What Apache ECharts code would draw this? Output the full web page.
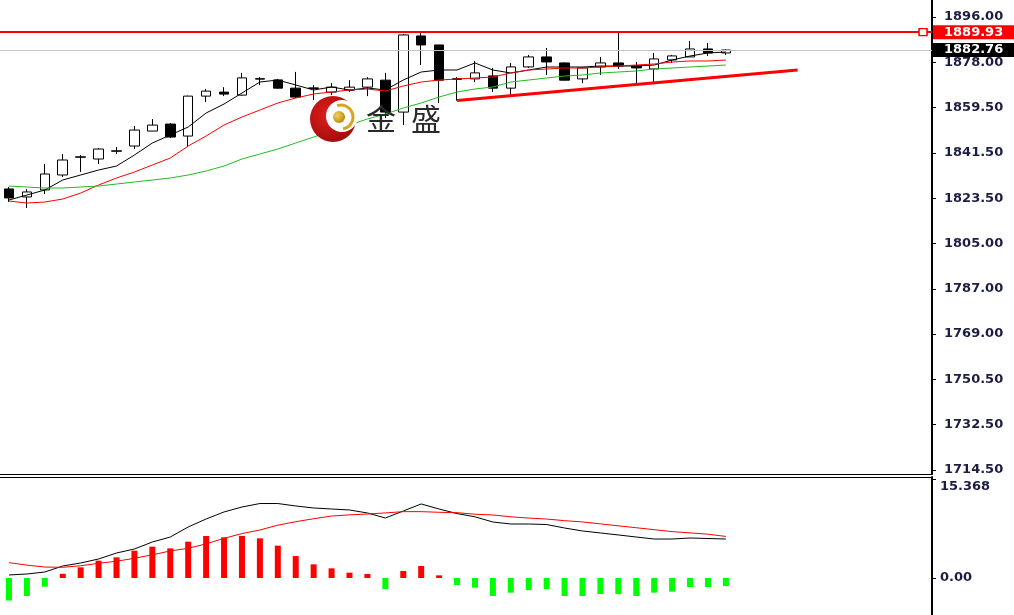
<!DOCTYPE html>
<html>
<head>
<meta charset="utf-8">
<script src="https://cdn.jsdelivr.net/npm/echarts@6/dist/echarts.min.js"></script>
<style>
html,body{margin:0;padding:0;background:#ffffff;}
#c{width:1014px;height:615px;}
</style>
</head>
<body>
<div id="c"></div>
<script>
// ---------- DATA ----------
const categories = ['0','1','2','3','4','5','6','7','8','9','10','11','12','13','14','15','16','17','18','19','20','21','22','23','24','25','26','27','28','29','30','31','32','33','34','35','36','37','38','39','40','41','42','43','44','45','46','47','48','49','50','51'];

// [open, close, low, high]
const ohlc = [
  [1827.1,1823.5,1821.9,1827.9],[1823.9,1825.9,1819.5,1827.1],[1826.7,1833.1,1825.1,1837.1],
  [1832.7,1838.7,1831.9,1841.1],[1839.8,1840.0,1833.9,1840.7],[1839.1,1843.1,1837.1,1843.5],
  [1842.2,1842.4,1841.1,1843.9],[1844.3,1850.7,1843.1,1852.3],[1850.3,1852.7,1850.3,1855.1],
  [1853.1,1847.9,1847.5,1853.5],[1848.3,1864.3,1843.9,1864.5],[1864.3,1866.3,1861.9,1867.2],
  [1865.9,1865.1,1864.3,1867.9],[1864.7,1871.6,1864.5,1873.6],[1871.1,1871.3,1868.7,1871.9],
  [1870.8,1867.5,1867.2,1871.2],[1867.5,1863.9,1863.5,1874.0],[1867.6,1867.4,1862.7,1868.7],
  [1865.9,1867.9,1864.7,1869.5],[1866.7,1867.9,1865.9,1870.7],[1867.9,1871.2,1864.3,1871.9],
  [1870.7,1857.9,1855.5,1873.6],[1857.9,1888.8,1852.7,1889.2],[1888.4,1884.8,1876.8,1889.6],
  [1884.8,1870.7,1861.5,1884.8],[1871.0,1871.3,1862.5,1871.9],[1871.2,1873.6,1869.9,1878.4],
  [1872.4,1867.5,1865.9,1875.6],[1867.5,1876.0,1864.7,1877.6],[1876.0,1880.0,1875.6,1880.8],
  [1880.0,1878.0,1872.8,1883.6],[1877.6,1870.7,1870.5,1877.8],[1871.2,1875.6,1869.5,1876.0],
  [1876.0,1877.6,1872.8,1880.0],[1877.6,1876.4,1875.2,1889.9],[1876.4,1875.6,1869.5,1878.0],
  [1875.2,1879.2,1869.9,1881.6],[1878.8,1880.4,1877.6,1880.8],[1880.0,1883.2,1880.0,1886.4],
  [1883.2,1881.6,1880.4,1885.6],[1881.6,1882.76,1880.8,1883.0]
];

const maFast = [1822.67,1824.67,1826.68,1830.68,1832.69,1834.69,1836.29,1840.70,1845.51,1848.72,1851.92,1857.53,1861.14,1865.54,1869.95,1870.75,1868.75,1866.75,1867.95,1866.75,1867.55,1866.75,1870.75,1873.96,1874.76,1874.76,1877.57,1874.76,1873.56,1874.76,1875.96,1875.96,1875.96,1876.36,1876.36,1876.36,1876.76,1878.77,1880.37,1881.57,1881.97];
const maMid = [1822.27,1821.47,1821.87,1823.07,1825.47,1828.68,1831.49,1833.89,1836.69,1839.50,1844.31,1848.31,1852.72,1855.93,1858.73,1861.54,1863.54,1865.14,1865.95,1866.75,1867.15,1866.35,1868.35,1869.95,1870.75,1871.15,1871.56,1871.96,1873.56,1874.76,1875.16,1875.56,1875.56,1875.96,1876.36,1876.76,1877.17,1877.97,1878.37,1878.37,1878.77];
const maSlow = [1828.28,1827.88,1827.48,1827.48,1827.88,1828.28,1829.08,1829.88,1830.68,1831.49,1832.69,1834.29,1836.29,1839.10,1841.10,1843.11,1845.51,1847.91,1850.32,1852.72,1855.13,1857.13,1859.53,1861.54,1863.94,1865.95,1867.15,1867.95,1869.95,1870.75,1871.56,1872.36,1872.76,1873.56,1873.96,1874.36,1875.16,1875.56,1875.96,1876.36,1876.76];

const trendline = [[25,1862.54],[44,1874.76]];
const resistance = 1889.93;
const currentPrice = 1882.76;

const macdHist = [-3.5,-2.8,-1.35,0.65,1.66,2.69,3.21,4.24,4.86,4.6,5.64,6.52,6.31,6.52,6.16,5.02,3.41,2.12,1.5,0.83,0.62,-1.71,1.09,1.86,0.41,-1.09,-1.5,-2.8,-2.28,-1.86,-1.71,-2.8,-2.8,-2.48,-2.5,-2.8,-2.28,-2.12,-1.4,-1.4,-1.24];
const macdDif = [0.47,0.62,0.93,1.86,2.33,2.95,3.88,4.5,5.59,6.36,7.92,9.16,10.25,11.02,11.56,11.56,11.18,10.87,10.71,10.56,10.09,9.31,10.4,11.49,10.71,10.0,9.5,8.69,8.38,8.38,8.3,7.76,7.3,6.99,6.68,6.36,6.05,6.05,6.21,6.13,6.05];
const macdDea = [2.38,2.0,1.7,1.66,1.9,2.28,2.6,3.06,3.6,4.2,4.61,5.3,6.16,6.9,7.45,8.2,8.74,9.2,9.62,9.8,9.93,10.1,10.3,10.3,10.2,10.14,9.9,9.78,9.5,9.3,9.15,8.9,8.7,8.4,8.1,7.8,7.5,7.2,7.0,6.8,6.45];

const priceTickValues = [1714.5,1732.65,1750.8,1768.95,1787.1,1805.25,1823.4,1841.55,1859.7,1877.85,1896];
const priceTickLabels = ['1714.50','1732.50','1750.50','1769.00','1787.00','1805.00','1823.50','1841.50','1859.50','1878.00','1896.00'];
const macdTickValues = [0, 15.368];
const macdTickLabels = ['0.00', '15.368'];

// ---------- CHART ----------
function nearestLabel(v, vals, labels) {
  let best = 0, bd = Infinity;
  for (let i = 0; i < vals.length; i++) {
    const d = Math.abs(vals[i] - v);
    if (d < bd) { bd = d; best = i; }
  }
  return labels[best];
}

const labelFont = { fontFamily: 'DejaVu Sans', fontSize: 13, fontWeight: 'bold', color: '#1c1c44' };

const chart = echarts.init(document.getElementById('c'), null, { renderer: 'canvas' });

const option = {
  animation: false,
  backgroundColor: '#ffffff',
  grid: [
    { left: -4, right: 82, top: 0, height: 474 },
    { left: -4, right: 82, top: 477, bottom: 0 }
  ],
  xAxis: [
    { type: 'category', data: categories, gridIndex: 0, boundaryGap: true,
      axisLine: { show: true, onZero: false, lineStyle: { color: '#000', width: 1 } },
      axisTick: { show: false }, axisLabel: { show: false }, splitLine: { show: false } },
    { type: 'category', data: categories, gridIndex: 1, boundaryGap: true, position: 'top',
      axisLine: { show: true, onZero: false, lineStyle: { color: '#000', width: 1 } },
      axisTick: { show: false }, axisLabel: { show: false }, splitLine: { show: false } }
  ],
  yAxis: [
    { type: 'value', gridIndex: 0, position: 'right', min: 1712.9, max: 1902.81,
      axisLine: { show: true, lineStyle: { color: '#000', width: 2 } },
      axisTick: { show: true, customValues: priceTickValues, length: 4, lineStyle: { color: '#000', width: 1 } },
      axisLabel: Object.assign({ customValues: priceTickValues, margin: 12,
        formatter: v => nearestLabel(v, priceTickValues, priceTickLabels) }, labelFont),
      splitLine: { show: false } },
    { type: 'value', gridIndex: 1, position: 'right', min: -5.744, max: 15.678,
      axisLine: { show: true, lineStyle: { color: '#000', width: 2 } },
      axisTick: { show: true, customValues: macdTickValues, length: 4, lineStyle: { color: '#000', width: 1 } },
      axisLabel: Object.assign({ customValues: macdTickValues, margin: 8,
        formatter: v => v > 1 ? '{top|' + nearestLabel(v, macdTickValues, macdTickLabels) + '}' : nearestLabel(v, macdTickValues, macdTickLabels),
        rich: { top: { padding: [16, 0, 0, 0], fontFamily: 'DejaVu Sans', fontSize: 13, fontWeight: 'bold', color: '#1c1c44' } }
      }, labelFont),
      splitLine: { show: false } }
  ],
  series: [
    { type: 'candlestick', name: 'price', xAxisIndex: 0, yAxisIndex: 0, data: ohlc,
      barWidth: 10, z: 2,
      itemStyle: { color: '#ffffff', color0: '#000000', borderColor: '#000000', borderColor0: '#000000', borderWidth: 1 },
      markLine: {
        silent: true, symbol: ['none', 'none'], animation: false,
        data: [
          { yAxis: resistance, lineStyle: { color: '#ff0000', width: 2, type: 'solid' },
            label: { show: true, position: 'end', distance: 1, formatter: () => resistance.toFixed(2),
              backgroundColor: '#ff0000', color: '#ffffff', padding: [1, 20, 0, 11],
              fontFamily: 'DejaVu Sans', fontSize: 13, fontWeight: 'bold' } },
          { yAxis: currentPrice, lineStyle: { color: '#c4c4c4', width: 1, type: 'solid' },
            label: { show: true, position: 'end', distance: 1, formatter: () => currentPrice.toFixed(2),
              backgroundColor: '#000000', color: '#ffffff', padding: [1, 20, 0, 11],
              fontFamily: 'DejaVu Sans', fontSize: 13, fontWeight: 'bold' } }
        ]
      },
      markPoint: {
        silent: true, symbol: 'rect', symbolSize: [8, 7],
        itemStyle: { color: '#ffffff', borderColor: '#ff0000', borderWidth: 1.5 },
        label: { show: false },
        data: [{ coord: [categories[51], resistance] }]
      }
    },
    { type: 'line', name: 'MA fast', xAxisIndex: 0, yAxisIndex: 0, data: maFast, symbol: 'none', z: 3,
      lineStyle: { color: '#000000', width: 1 } },
    { type: 'line', name: 'MA mid', xAxisIndex: 0, yAxisIndex: 0, data: maMid, symbol: 'none', z: 3,
      lineStyle: { color: '#ff0000', width: 1 } },
    { type: 'line', name: 'MA slow', xAxisIndex: 0, yAxisIndex: 0, data: maSlow, symbol: 'none', z: 3,
      lineStyle: { color: '#22bb22', width: 1 } },
    { type: 'line', name: 'trend', xAxisIndex: 0, yAxisIndex: 0, data: trendline, symbol: 'none', z: 3,
      lineStyle: { color: '#ff0000', width: 3 } },
    { type: 'bar', name: 'hist', xAxisIndex: 1, yAxisIndex: 1, data: macdHist, barWidth: 6,
      itemStyle: { color: p => p.value >= 0 ? '#ff0000' : '#00ff00' } },
    { type: 'line', name: 'DIF', xAxisIndex: 1, yAxisIndex: 1, data: macdDif, symbol: 'none', z: 3,
      lineStyle: { color: '#000000', width: 1 } },
    { type: 'line', name: 'DEA', xAxisIndex: 1, yAxisIndex: 1, data: macdDea, symbol: 'none', z: 3,
      lineStyle: { color: '#ff0000', width: 1 } }
  ],
  graphic: [
    { type: 'circle', z: 100, shape: { cx: 333, cy: 119, r: 23 },
      style: { fill: new echarts.graphic.RadialGradient(0.4, 0.4, 0.7, [
        { offset: 0, color: '#e02020' }, { offset: 1, color: '#a00808' }]) } },
    { type: 'circle', z: 101, shape: { cx: 342, cy: 116, r: 16 }, style: { fill: '#ffffff' } },
    { type: 'arc', z: 102, shape: { cx: 341, cy: 117, r: 12, startAngle: -1.9, endAngle: 1.4, clockwise: true },
      style: { stroke: '#d9a520', lineWidth: 3, fill: null } },
    { type: 'circle', z: 103, shape: { cx: 339, cy: 117, r: 6 },
      style: { fill: new echarts.graphic.RadialGradient(0.35, 0.35, 0.7, [
        { offset: 0, color: '#f2d060' }, { offset: 1, color: '#b88a10' }]) } },
    { type: 'text', z: 104, left: 366, top: 104,
      style: { text: '金', fontFamily: '"Noto Sans CJK SC"', fontSize: 30, fill: '#2a2a2a' } },
    { type: 'text', z: 104, left: 411, top: 104,
      style: { text: '盛', fontFamily: '"Noto Sans CJK SC"', fontSize: 30, fill: '#2a2a2a' } }
  ]
};

chart.setOption(option);
</script>
</body>
</html>
